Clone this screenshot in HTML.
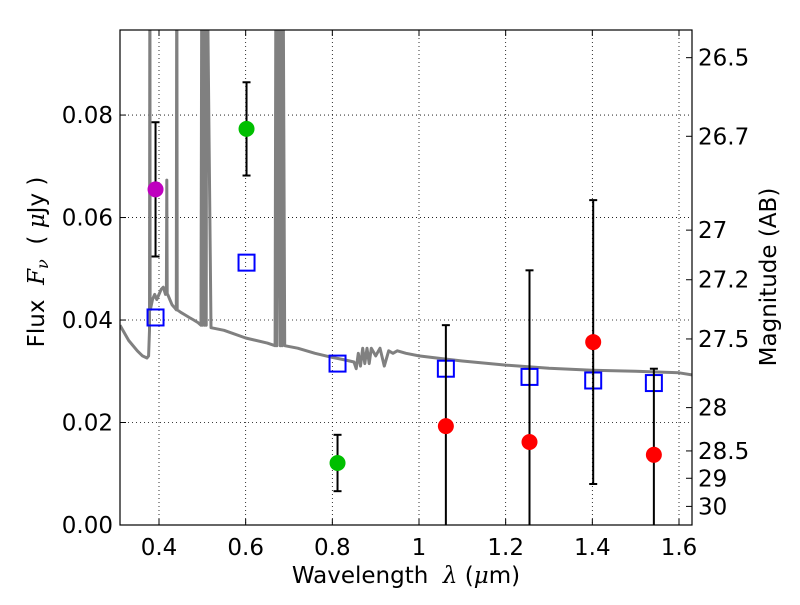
<!DOCTYPE html>
<html><head><meta charset="utf-8"><style>
body{margin:0;background:#fff}
svg text{font-family:"DejaVu Sans","Liberation Sans",sans-serif;fill:#000;white-space:pre}
</style></head><body>
<svg id="c" width="800" height="600"></svg>
<script>
const xTicks=[0.4,0.6,0.8,1,1.2,1.4,1.6];
const xTickLabels=["0.4","0.6","0.8","1","1.2","1.4","1.6"];
const yTicks=[0,0.02,0.04,0.06,0.08];
const yTickLabels=["0.00","0.02","0.04","0.06","0.08"];
const magTicks=[26.5,26.7,27,27.2,27.5,28,28.5,29,30];
const magLabels=["26.5","26.7","27","27.2","27.5","28","28.5","29","30"];
const photWave=[0.392,0.602,0.812,1.062,1.255,1.402,1.542];
const photFlux=[0.0655,0.0773,0.0121,0.0193,0.0162,0.0357,0.0137];
const photErr=[0.0131,0.0091,0.0055,0.0197,0.0335,0.0277,0.0168];
const photColor=["#bf00bf","#00bf00","#00bf00","#ff0000","#ff0000","#ff0000","#ff0000"];
const modelWave=[0.392,0.602,0.812,1.062,1.255,1.402,1.542];
const modelFlux=[0.0405,0.0512,0.0315,0.0305,0.0289,0.0282,0.0277];
const specWave=[0.31,0.33,0.35,0.362,0.372,0.376,0.378,0.379,0.3795,0.38,0.385,0.39,0.395,0.40,0.405,0.41,0.415,0.417,0.418,0.419,0.42,0.425,0.43,0.435,0.44,0.441,0.442,0.45,0.46,0.47,0.48,0.49,0.497,0.499,0.5,0.503,0.505,0.507,0.509,0.51,0.52,0.55,0.6,0.65,0.668,0.67,0.672,0.674,0.68,0.682,0.684,0.686,0.69,0.72,0.76,0.8,0.83,0.85,0.855,0.86,0.865,0.87,0.875,0.88,0.885,0.89,0.9,0.91,0.92,0.93,0.94,0.95,0.97,1.0,1.05,1.1,1.2,1.3,1.4,1.5,1.6,1.63];
const specFlux=[0.039,0.036,0.034,0.033,0.0326,0.033,0.038,0.2,0.044,0.042,0.044,0.045,0.044,0.045,0.046,0.0464,0.045,0.046,0.0673,0.045,0.045,0.044,0.043,0.0425,0.042,0.2,0.042,0.0415,0.041,0.0405,0.040,0.0395,0.039,0.2,0.039,0.2,0.039,0.2,0.039,0.2,0.0385,0.038,0.0365,0.0355,0.035,0.2,0.035,0.2,0.035,0.2,0.035,0.2,0.035,0.0345,0.0335,0.0327,0.0322,0.0318,0.0305,0.0335,0.031,0.0345,0.0315,0.0345,0.0315,0.0345,0.033,0.0345,0.031,0.034,0.0335,0.034,0.0335,0.033,0.0325,0.032,0.0312,0.0306,0.0302,0.030,0.0297,0.0293];
const L=120,R=692,T=30,B=525,xmin=0.31,xmax=1.63,ymin=0,ymax=0.0966;
const X=v=>L+(v-xmin)/(xmax-xmin)*(R-L);
const Y=v=>B-(v-ymin)/(ymax-ymin)*(B-T);
const NS="http://www.w3.org/2000/svg";
const svg=document.getElementById('c');
function mk(t,a,p){const e=document.createElementNS(NS,t);for(const k in a)e.setAttribute(k,a[k]);(p||svg).appendChild(e);return e;}
const defs=mk('defs',{});const cp=mk('clipPath',{id:'pc'},defs);mk('rect',{x:L,y:T,width:R-L,height:B-T},cp);
const grid=mk('g',{});


xTicks.forEach(v=>mk('line',{x1:X(v),x2:X(v),y1:T,y2:B,stroke:'#000','stroke-width':0.8,'stroke-dasharray':'1,3'},grid));
yTicks.forEach(v=>mk('line',{x1:L,x2:R,y1:Y(v),y2:Y(v),stroke:'#000','stroke-width':0.8,'stroke-dasharray':'1,3'},grid));
const plot=mk('g',{'clip-path':'url(#pc)'});
let d='';specWave.forEach((w,i)=>{d+=(i?'L':'M')+X(w).toFixed(1)+','+Y(Math.min(specFlux[i],0.12)).toFixed(1);});
const sp=mk('path',{d:d,fill:'none',stroke:'#808080','stroke-width':3,'stroke-linejoin':'round'},plot);


modelWave.forEach((w,i)=>{const r=mk('rect',{x:X(w)-8,y:Y(modelFlux[i])-8,width:16,height:16,fill:'none',stroke:'#0000ff','stroke-width':2},plot);

});
photWave.forEach((w,i)=>{const g=mk('g',{},plot);


const x=X(w),y1=Y(photFlux[i]-photErr[i]),y2=Y(photFlux[i]+photErr[i]);
mk('line',{x1:x,x2:x,y1:y1,y2:y2,stroke:'#000','stroke-width':2},g);
mk('line',{x1:x-4,x2:x+4,y1:y1,y2:y1,stroke:'#000','stroke-width':2},g);
mk('line',{x1:x-4,x2:x+4,y1:y2,y2:y2,stroke:'#000','stroke-width':2},g);
mk('circle',{cx:x,cy:Y(photFlux[i]),r:8,fill:photColor[i]},g);});
const fr=mk('rect',{x:L,y:T,width:R-L,height:B-T,fill:'none',stroke:'#000','stroke-width':1.2});


xTicks.forEach((v,i)=>{mk('line',{x1:X(v),x2:X(v),y1:B,y2:B-6,stroke:'#000'});mk('line',{x1:X(v),x2:X(v),y1:T,y2:T+6,stroke:'#000'});
const t=mk('text',{x:X(v),y:B+30,'text-anchor':'middle','font-size':23});t.textContent=xTickLabels[i];

});
yTicks.forEach((v,i)=>{mk('line',{x1:L,x2:L+6,y1:Y(v),y2:Y(v),stroke:'#000'});
const t=mk('text',{x:L-7,y:Y(v)+8,'text-anchor':'end','font-size':23});t.textContent=yTickLabels[i];

});
magTicks.forEach((m,i)=>{const y=Y(Math.pow(10,(23.9-m)/2.5));mk('line',{x1:R,x2:R-6,y1:y,y2:y,stroke:'#000'});
const t=mk('text',{x:R+6,y:y+8,'font-size':23});t.textContent=magLabels[i];

});
const xt=mk('text',{x:406,y:583,'text-anchor':'middle','font-size':23});
xt.innerHTML='Wavelength  <tspan font-style="italic" font-family="DejaVu Serif">λ</tspan> (<tspan font-style="italic" font-family="DejaVu Serif">μ</tspan>m)';


const yt=mk('text',{x:0,y:0,'text-anchor':'middle','font-size':23,transform:'translate(44,262) rotate(-90)'});
yt.innerHTML='Flux  <tspan font-style="italic" font-family="DejaVu Serif">F</tspan><tspan font-style="italic" font-family="DejaVu Serif" font-size="16" dy="4">ν</tspan><tspan dy="-4">  ( </tspan><tspan font-style="italic" font-family="DejaVu Serif">μ</tspan>Jy )';


const rt=mk('text',{x:0,y:0,'text-anchor':'middle','font-size':23,transform:'translate(776,277) rotate(-90)'});
rt.textContent='Magnitude (AB)';


</script>
</body></html>
